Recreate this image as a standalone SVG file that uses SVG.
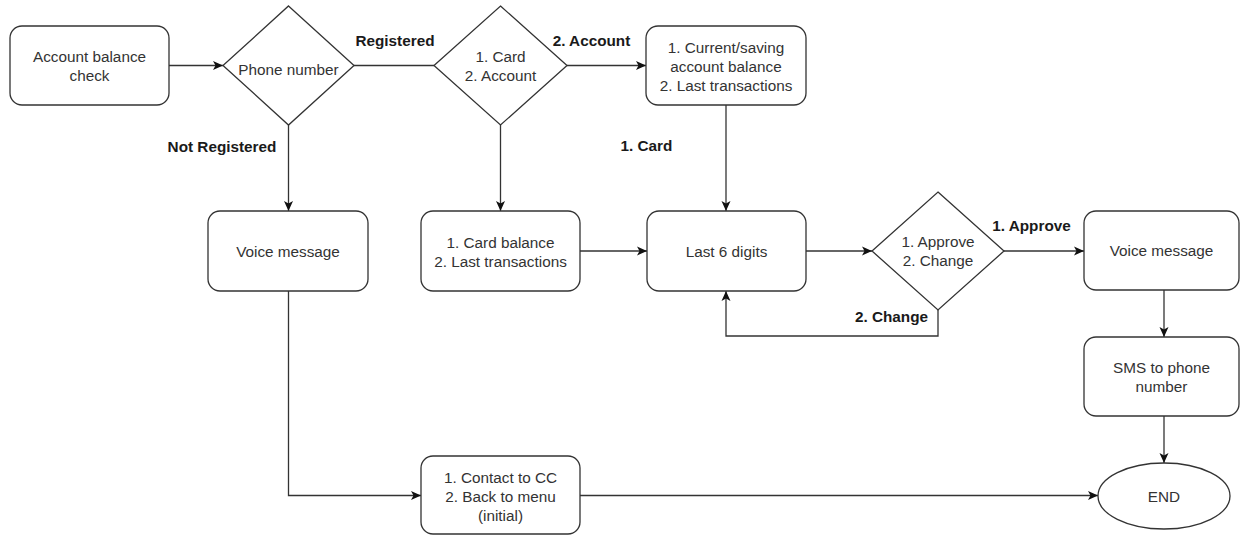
<svg xmlns="http://www.w3.org/2000/svg" width="1241" height="535" viewBox="0 0 1241 535">
<style>
.n{fill:#fff;stroke:#333;stroke-width:1.3}
.t{font-family:"Liberation Sans",Arial,sans-serif;font-size:15.3px;fill:#333;text-anchor:middle}
.l{font-family:"Liberation Sans",Arial,sans-serif;font-size:15.3px;font-weight:bold;fill:#1a1a1a;text-anchor:middle}
.c{fill:none;stroke:#333;stroke-width:1.3}
.a{marker-end:url(#arr)}
</style>
<defs>
<marker id="arr" viewBox="0 0 10 10" refX="10" refY="5" markerWidth="10" markerHeight="10" markerUnits="userSpaceOnUse" orient="auto">
<path d="M0,0.5 L10,5 L0,9.5 L2.5,5 z" fill="#111"/>
</marker>
</defs>
<rect width="1241" height="535" fill="#fff"/>
<g id="connectors">
<path class="c a" d="M169,65.5 H223"/>
<path class="c" d="M354,65.5 H434"/>
<path class="c a" d="M567,65.5 H646"/>
<path class="c a" d="M288.5,125 V211"/>
<path class="c a" d="M500.5,125 V211"/>
<path class="c a" d="M726,105 V211"/>
<path class="c a" d="M580,251 H647"/>
<path class="c a" d="M806,251 H872"/>
<path class="c a" d="M1004,251 H1084"/>
<path class="c a" d="M938,310 V336 H726 V291"/>
<path class="c a" d="M1164,290 V337"/>
<path class="c a" d="M1164,416 V463"/>
<path class="c a" d="M288.5,291 V495.5 H421"/>
<path class="c a" d="M580,495.5 H1098"/>
<text class="l" x="395" y="45.5">Registered</text>
<text class="l" x="591.5" y="45.5">2. Account</text>
<text class="l" x="222" y="151.5">Not Registered</text>
<text class="l" x="646.5" y="150.5">1. Card</text>
<text class="l" x="1031.5" y="230.5">1. Approve</text>
<text class="l" x="891.5" y="322">2. Change</text>
</g>
<g id="start">
<rect class="n" x="10" y="26" width="159" height="79" rx="12"/>
<text class="t" x="89.5" y="62">Account balance</text>
<text class="t" x="89.5" y="81">check</text>
</g>
<g id="phone">
<polygon class="n" points="288.5,6 354,65.5 288.5,125 223,65.5"/>
<text class="t" x="288.5" y="75">Phone number</text>
</g>
<g id="cardaccount">
<polygon class="n" points="500.5,6 567,65.5 500.5,125 434,65.5"/>
<text class="t" x="500.5" y="61.5">1. Card</text>
<text class="t" x="500.5" y="80.5">2. Account</text>
</g>
<g id="accountbalance">
<rect class="n" x="646" y="26" width="160" height="79" rx="12"/>
<text class="t" x="726" y="53">1. Current/saving</text>
<text class="t" x="726" y="72">account balance</text>
<text class="t" x="726" y="91">2. Last transactions</text>
</g>
<g id="voice1">
<rect class="n" x="208" y="211" width="160" height="80" rx="12"/>
<text class="t" x="288" y="256.5">Voice message</text>
</g>
<g id="cardbalance">
<rect class="n" x="421" y="211" width="159" height="80" rx="12"/>
<text class="t" x="500.5" y="247.5">1. Card balance</text>
<text class="t" x="500.5" y="266.5">2. Last transactions</text>
</g>
<g id="last6">
<rect class="n" x="647" y="211" width="159" height="80" rx="12"/>
<text class="t" x="726.5" y="256.5">Last 6 digits</text>
</g>
<g id="approve">
<polygon class="n" points="938,192 1004,251 938,310 872,251"/>
<text class="t" x="938" y="247">1. Approve</text>
<text class="t" x="938" y="266">2. Change</text>
</g>
<g id="voice2">
<rect class="n" x="1084" y="211" width="155" height="79" rx="12"/>
<text class="t" x="1161.5" y="256">Voice message</text>
</g>
<g id="sms">
<rect class="n" x="1084" y="337" width="155" height="79" rx="12"/>
<text class="t" x="1161.5" y="373">SMS to phone</text>
<text class="t" x="1161.5" y="392">number</text>
</g>
<g id="contact">
<rect class="n" x="421" y="456" width="159" height="78" rx="12"/>
<text class="t" x="500.5" y="482.5">1. Contact to CC</text>
<text class="t" x="500.5" y="501.5">2. Back to menu</text>
<text class="t" x="500.5" y="520.5">(initial)</text>
</g>
<g id="end">
<ellipse class="n" cx="1164" cy="496" rx="66" ry="33"/>
<text class="t" x="1164" y="501.5">END</text>
</g>
</svg>
